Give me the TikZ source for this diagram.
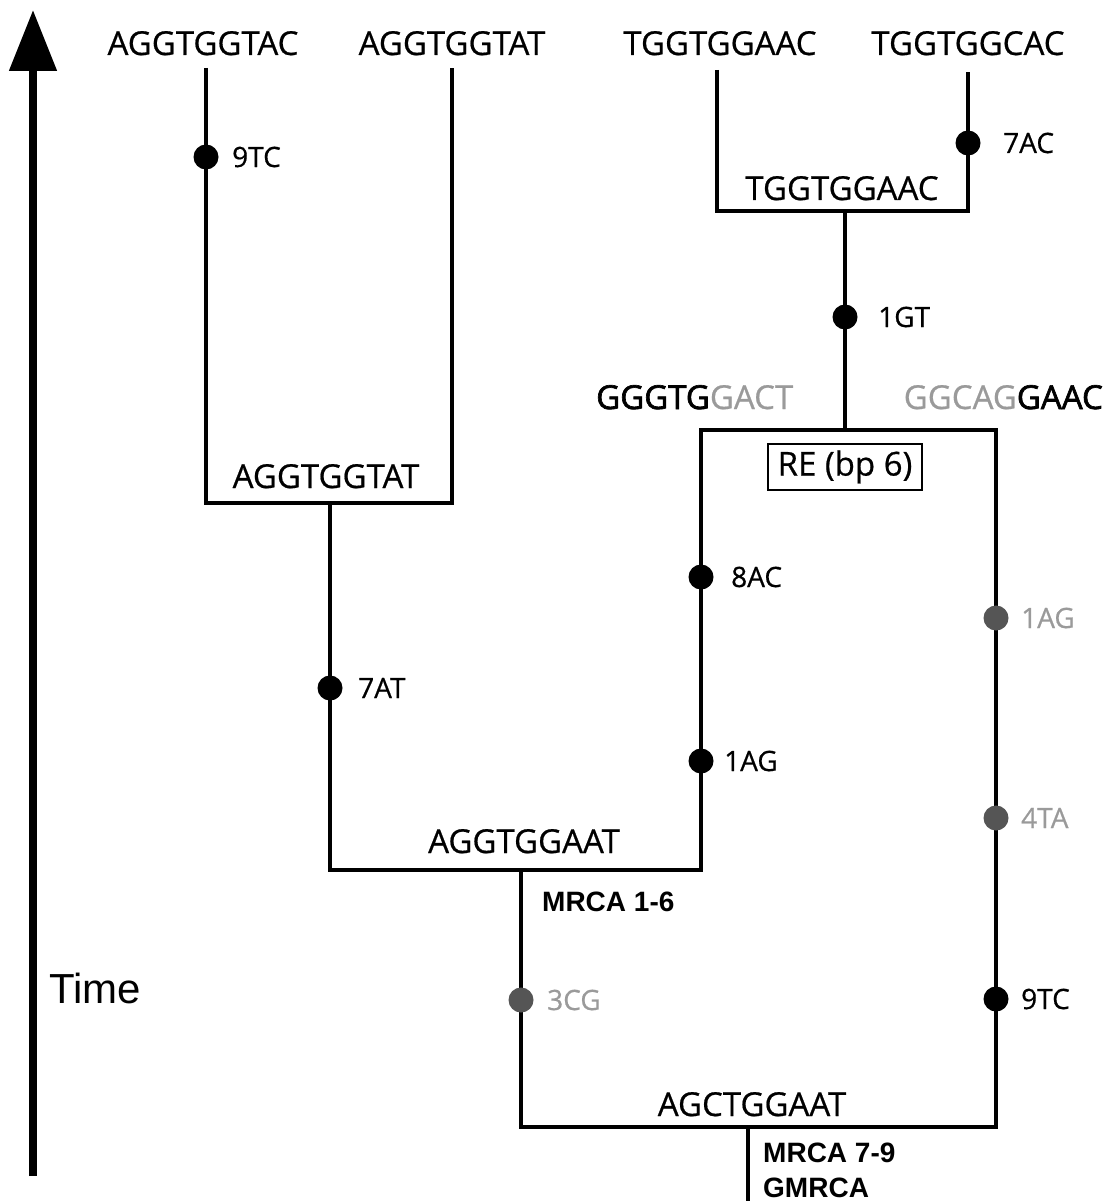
\documentclass[tikz,border=0pt]{standalone}
\usepackage{fontspec}
\setmainfont{Open Sans}[FakeBold=0.6]
\newfontfamily\arialf{Liberation Sans}
\newfontfamily\semib[FakeBold=2]{Open Sans}
\usetikzlibrary{arrows.meta}
\definecolor{lgrey}{HTML}{9A9A9A}
\definecolor{dgrey}{HTML}{555555}
\begin{document}
\begin{tikzpicture}[x=1pt,y=-1pt,
  tree/.style={line width=4.8pt},
  seq/.style={font=\fontsize{33}{40}\selectfont, inner sep=0pt, anchor=base},
  mut/.style={font=\fontsize{28}{34}\selectfont, inner sep=0pt, anchor=west},
  mutg/.style={mut, text=lgrey},
  dotb/.style={circle, fill=black, minimum size=25pt, inner sep=0pt},
  dotg/.style={dotb, fill=dgrey},
  mrca/.style={font=\arialf\bfseries\fontsize{28}{32}\selectfont, inner sep=0pt, anchor=base west},
  rebox/.style={draw, line width=2pt, minimum width=154pt, minimum height=46pt, inner sep=0pt, font=\fontsize{33}{40}\selectfont}
]
\useasboundingbox (0,0) rectangle (1106,1201);

% time arrow
\coordinate (tb) at (33,1176);
\coordinate (tt) at (33,10);
\draw[line width=8pt, -{Triangle[length=61pt,width=46pt]}] (tb) -- (tt);
\node[font=\arialf\fontsize{42}{48}\selectfont, inner sep=0pt, anchor=base west] (time) at (49,1003) {Time};

% leaves
\node[seq] (s1) at (203,55) {AGGTGGTAC};
\node[seq] (s2) at (452,55) {AGGTGGTAT};
\node[seq] (s3) at (720,55) {TGGTGGAAC};
\node[seq] (s4) at (968,55) {TGGTGGCAC};

% branch coordinates
\coordinate (c1) at (206,68);
\coordinate (c2) at (452,68);
\coordinate (c3) at (717,70);
\coordinate (c4) at (968,72);
\coordinate (j1) at (330,503);
\coordinate (k2) at (701,870);
\coordinate (m) at (521,870);
\coordinate (re) at (845,430);
\coordinate (reR) at (996,430);
\coordinate (rootL) at (521,1127);
\coordinate (root) at (748,1127);
\coordinate (bot) at (748,1201);
\coordinate (t) at (845,211);

% tree
\draw[tree] (c1) |- (j1) -| (c2);
\draw[tree] (j1) |- (k2) |- (reR) |- (rootL) -- (m);
\draw[tree] (re) -- (t);
\draw[tree] (c3) |- (t) -| (c4);
\draw[tree] (root) -- (bot);

% internal sequences
\node[seq] (n1) at (326,488) {AGGTGGTAT};
\node[seq] (n2) at (524,853) {AGGTGGAAT};
\node[seq] (n3) at (752,1116) {AGCTGGAAT};
\node[seq] (n4) at (842,200) {TGGTGGAAC};
\node[seq, anchor=base west] (n5) at (596,409) {{\semib GGGTG}{\color{lgrey}GACT}};
\node[seq, anchor=base east] (n6) at (1103,409) {{\color{lgrey}GGCAG}{\semib GAAC}};
\node[rebox] (rebx) at (845,467) {RE (bp 6)};

% mutations
\node[dotb] (d1) at (206,157) {};
\node[mut] (l1) at (232,157) {9TC};
\node[dotb] (d2) at (968,143) {};
\node[mut] (l2) at (1003,143) {7AC};
\node[dotb] (d3) at (845,317) {};
\node[mut] (l3) at (878,317) {1GT};
\node[dotb] (d4) at (330,688) {};
\node[mut] (l4) at (358,688) {7AT};
\node[dotb] (d5) at (701,577) {};
\node[mut] (l5) at (731,577) {8AC};
\node[dotb] (d6) at (701,761) {};
\node[mut] (l6) at (724,761) {1AG};
\node[dotg] (d7) at (996,618) {};
\node[mutg] (l7) at (1021,618) {1AG};
\node[dotg] (d8) at (996,818) {};
\node[mutg] (l8) at (1021,818) {4TA};
\node[dotg] (d9) at (521,1000) {};
\node[mutg] (l9) at (547,1000) {3CG};
\node[dotb] (d10) at (996,999) {};
\node[mut] (l10) at (1021,999) {9TC};

% MRCA labels
\node[mrca] (mr1) at (542,911) {MRCA 1-6};
\node[mrca] (mr2) at (763,1162) {MRCA 7-9};
\node[mrca] (mr3) at (763,1197) {GMRCA};
\end{tikzpicture}
\end{document}
